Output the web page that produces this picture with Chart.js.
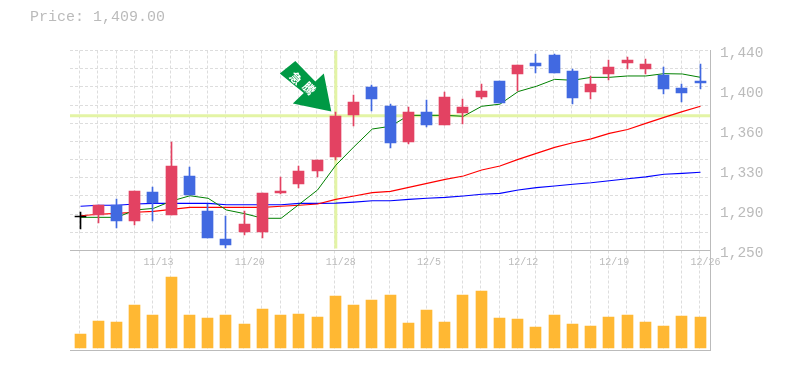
<!doctype html>
<html lang="en">
<head>
<meta charset="utf-8">
<title>Price chart</title>
<script src="https://cdn.jsdelivr.net/npm/chart.js"></script>
<style>
    body { margin: 0; background: #fff; }
    #wrap { position: relative; width: 785px; height: 370px; }
    #price { position: absolute; left: 30px; top: 9px; font: 15px "Liberation Mono", monospace; color: #bbb; }
    canvas { display: block; }
</style>
</head>
<body>
<div id="wrap">
    <div id="price">Price: 1,409.00</div>
    <canvas id="chart" width="785" height="370"></canvas>
</div>
<script>
// trading days
const categories = ['11/7','11/8','11/9','11/10','11/13','11/14','11/15','11/16','11/17','11/20','11/21','11/22','11/24','11/27','11/28','11/29','11/30','12/1','12/4','12/5','12/6','12/7','12/8','12/11','12/12','12/13','12/14','12/15','12/18','12/19','12/20','12/21','12/22','12/25','12/26'];
const dateLabels = ['11/13','11/20','11/28','12/5','12/12','12/19','12/26'];

// candles
const open  = [1282,1284,1293,1278,1306,1284,1321,1288,1261,1268,1268,1305,1313,1326,1339,1379,1405,1387,1353,1382,1369,1381,1396,1411,1418,1428,1436,1421,1401,1418,1428,1422,1417,1404,1411];
const high  = [1287,1293,1299,1307,1310,1353,1329,1294,1283,1288,1305,1320,1330,1336,1382,1398,1407,1389,1386,1393,1401,1394,1408,1411,1426,1437,1437,1422,1416,1431,1434,1432,1424,1408,1427];
const low   = [1270,1276,1271,1274,1278,1284,1303,1262,1252,1265,1262,1304,1309,1320,1336,1368,1383,1347,1351,1367,1369,1370,1394,1390,1402,1419,1419,1389,1394,1412,1422,1418,1399,1391,1403];
const close = [1282,1293,1278,1307,1295,1330,1303,1262,1255,1275,1305,1307,1326,1336,1378,1391,1394,1352,1382,1369,1396,1386,1402,1390,1426,1425,1419,1395,1408,1424,1431,1427,1403,1400,1409];

// moving averages
const maShort = [1281.5,1281.5,1281.5,1288.5,1290,1297,1302,1299.6,1288.5,1285,1280.6,1280.6,1294,1307.5,1331,1348.6,1365.4,1368,1378.4,1378.4,1378.4,1377.5,1387,1389,1401,1406,1412.6,1411.7,1414.5,1414.5,1415.8,1415.8,1418,1417.7,1414.5];
const maMid   = [1283,1284.4,1285.3,1286.3,1287.2,1289.1,1291,1291,1291,1291,1291,1292,1293,1294.2,1298.6,1301.8,1305,1306.2,1310,1313.8,1317.6,1320.8,1326.5,1330.3,1336.6,1342.3,1348,1352.4,1356,1361.3,1365,1370.8,1376.5,1381.9,1387];
const maLong  = [1292,1293,1293,1294.2,1294.8,1294.8,1294.8,1294.8,1293.5,1293.5,1293.5,1293.5,1294.8,1294.8,1295,1296,1297.3,1297.3,1298.6,1299.6,1300.5,1301.8,1303.4,1304.3,1307.5,1309.7,1311.3,1312.9,1314.4,1316.3,1318.2,1320,1322.4,1323.3,1324.3];

const volume = [14,27,26,43,33,71,33,30,33,24,39,33,34,31,52,43,48,53,25,38,26,53,57,30,29,21,33,24,22,31,33,26,22,32,31];

// price axis: labels sit on these values, the dotted grid on the others
const priceTicks = [1402,1364,1326,1288];
const priceTickLabels = ['1,400','1,360','1,330','1,290'];
const priceEnds = [1440,1250];
const priceEndLabels = ['1,440','1,250'];
const priceGrid = [1422.73,1405.45,1388.18,1370.91,1353.64,1336.36,1319.09,1301.82,1284.55,1267.27];

const markIndex = 14;
const markPrice = 1378;

const RED = '#e34262', BLUE = '#4169e1', BLACK = '#000';
const GRID = '#ddd', AXIS = '#bbb', HILITE = '#e3f4a5';
const XMIN = -0.5764, XMAX = 34.52;

const candleColor = close.map((c, i) => i === 0 ? BLACK : c >= open[i] ? RED : BLUE);
const toPoints = arr => arr.map((v, i) => ({ x: i, y: v }));

function lineSet(data, color, width, order) {
    return { type: 'line', data: data, borderColor: color, borderWidth: width, pointRadius: 0, tension: 0, yAxisID: 'y', order: order };
}

// snap the bars to whole pixels, the original is not antialiased
const snapBars = {
    id: 'snapBars',
    afterDatasetsUpdate(chart) {
        chart.data.datasets.forEach((ds, i) => {
            if (ds.type === 'line') return;
            chart.getDatasetMeta(i).data.forEach(el => {
                el.x = Math.floor(el.x - 0.5) + 0.5;
                el.y = Math.round(el.y);
                el.base = Math.round(el.base);
            });
        });
    }
};

// the green arrow pointing at the candle
const arrow = {
    id: 'arrow',
    afterDatasetsDraw(chart) {
        const ctx = chart.ctx;
        const tipX = chart.scales.x.getPixelForValue(markIndex) - 4.5;
        const tipY = chart.scales.y.getPixelForValue(1382);
        ctx.save();
        ctx.translate(tipX, tipY);
        ctx.fillStyle = '#009944';
        ctx.beginPath();
        ctx.moveTo(0, 0);
        ctx.lineTo(-38.5, -8);
        ctx.lineTo(-27.5, -18.5);
        ctx.lineTo(-51.5, -38);
        ctx.lineTo(-36, -50.5);
        ctx.lineTo(-16, -30);
        ctx.lineTo(-7.5, -38);
        ctx.closePath();
        ctx.fill();
        ctx.fillStyle = '#fff';
        ctx.font = 'bold 12px "Noto Sans CJK JP"';
        ctx.textAlign = 'center';
        ctx.textBaseline = 'middle';
        [['急', -35.3, -33.3], ['騰', -22, -23.3]].forEach(t => {
            ctx.save();
            ctx.translate(t[1], t[2]);
            ctx.rotate(Math.PI / 4);
            ctx.fillText(t[0], 0, 0);
            ctx.restore();
        });
        ctx.restore();
    }
};

new Chart(document.getElementById('chart'), {
    type: 'bar',
    data: {
        datasets: [
            { data: open.map((o, i) => ({ x: i, y: [o, close[i]] })), backgroundColor: candleColor, barThickness: 11, minBarLength: 1, grouped: false, yAxisID: 'y', order: 1 },
            { data: high.map((h, i) => ({ x: i, y: [low[i], h] })), backgroundColor: candleColor, barThickness: 1, grouped: false, yAxisID: 'y', order: 2 },
            { data: toPoints(volume), backgroundColor: '#ffb833', barThickness: 11, grouped: false, yAxisID: 'yVol', order: 3 },
            lineSet(toPoints(maShort), '#008000', 1, 4),
            lineSet(toPoints(maMid), '#f00', 1.15, 5),
            lineSet(toPoints(maLong), '#00f', 1.15, 6),
            lineSet([{ x: XMIN, y: markPrice }, { x: XMAX, y: markPrice }], HILITE, 3, 7),
            lineSet([{ x: markIndex, y: 1252 }, { x: markIndex, y: 1440 }], HILITE, 3, 8)
        ]
    },
    options: {
        responsive: false,
        animation: false,
        layout: { padding: { left: 70, top: 50.5, bottom: 19.5, right: 0 } },
        plugins: { legend: { display: false }, tooltip: { enabled: false } },
        scales: {
            x: {
                type: 'linear',
                offset: false,
                min: XMIN,
                max: XMAX,
                position: { y: 1250 },
                afterBuildTicks: s => { s.ticks = categories.map((c, i) => ({ value: i - 0.548 })); },
                grid: { color: GRID, drawTicks: false },
                border: { dash: [3, 2], color: AXIS, width: 1 },
                ticks: {
                    autoSkip: false, maxRotation: 0, align: 'start', padding: 6,
                    color: AXIS, font: { family: 'Liberation Mono', size: 10 },
                    callback: (v, i) => dateLabels.includes(categories[i]) ? categories[i] : ''
                }
            },
            y: {
                position: 'right',
                stack: 'panels',
                stackWeight: 2,
                min: 1250,
                max: 1440,
                afterFit: s => { s.width = 75; },
                afterBuildTicks: s => { s.ticks = priceEnds.concat(priceTicks, priceGrid).map(v => ({ value: v })); },
                grid: {
                    drawTicks: false,
                    color: c => priceTicks.includes(c.tick.value) ? 'rgba(0,0,0,0)' : GRID
                },
                border: { dash: [3, 2], color: AXIS, width: 1 },
                ticks: {
                    autoSkip: false, padding: 10, labelOffset: 2.5,
                    color: AXIS, font: { family: 'Liberation Mono', size: 14.5 },
                    callback: v => {
                        if (priceEnds.includes(v)) return priceEndLabels[priceEnds.indexOf(v)];
                        return priceTicks.includes(v) ? priceTickLabels[priceTicks.indexOf(v)] : '';
                    }
                }
            },
            yVol: {
                position: 'right',
                stack: 'panels',
                stackWeight: 1,
                min: -2.5,
                max: 97.5,
                afterFit: s => { s.width = 75; },
                afterBuildTicks: s => { s.ticks = [{ value: -2.5 }]; },
                grid: { color: AXIS, drawTicks: false },
                border: { color: AXIS, width: 1 },
                ticks: { display: false }
            }
        }
    },
    plugins: [snapBars, arrow]
});
</script>
</body>
</html>
